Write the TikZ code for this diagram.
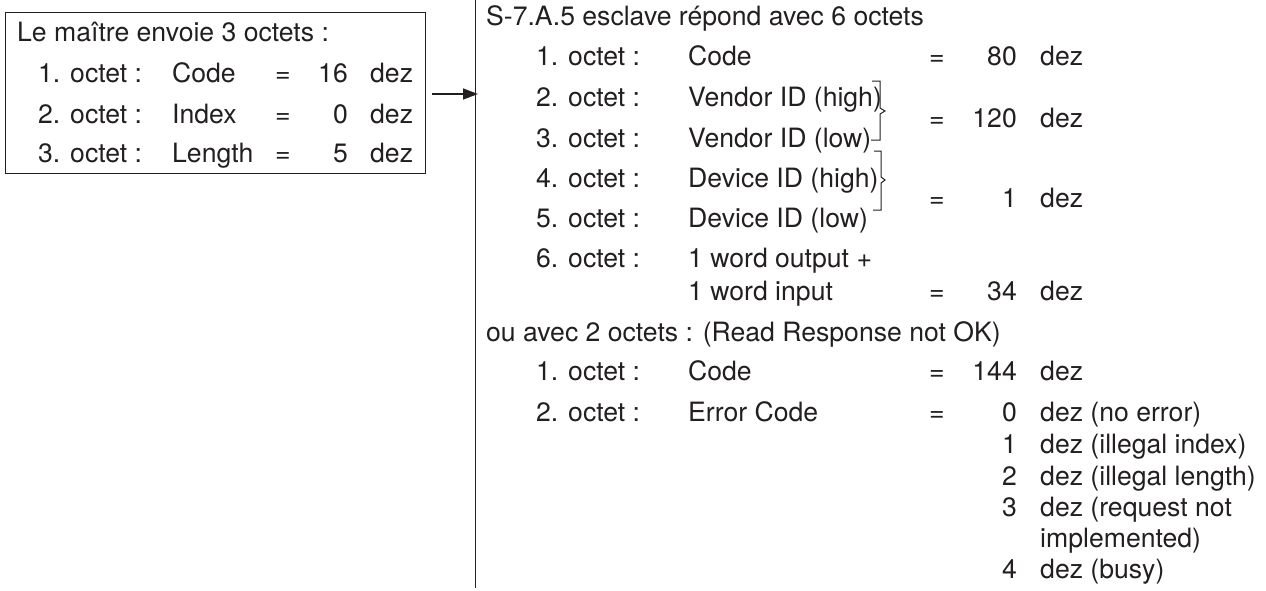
\documentclass[tikz,border=0pt]{standalone}
\usepackage{fontspec}
\setmainfont{TeX Gyre Heros}
\usetikzlibrary{arrows.meta}
\definecolor{ink}{HTML}{231F20}
\begin{document}
\begin{tikzpicture}[x=1pt,y=-1pt,
  every node/.style={inner sep=0pt,text=ink,font=\fontsize{26.6}{32}\selectfont},
  lt/.style={anchor=base west},
  rt/.style={anchor=base east},
  ct/.style={anchor=base},
  ln/.style={draw=ink,line width=1.4pt},
  brk/.style={draw=ink,line width=1pt}]
\useasboundingbox (0,0) rectangle (1266,590);
% master box
\node[ln,draw=ink,anchor=north west,minimum width=420,minimum height=161] (master) at (5,12) {};
\node[lt] (m0) at (17,41) {Le maître envoie 3 octets :};
\node[lt] (m1a) at (38,82) {1. octet :};
\node[lt] (m1b) at (172,82) {Code};
\node[ct] (m1c) at (283,82) {=};
\node[rt] (m1d) at (348,82) {16};
\node[lt] (m1e) at (370,82) {dez};
\node[lt] (m2a) at (38,123) {2. octet :};
\node[lt] (m2b) at (172,123) {Index};
\node[ct] (m2c) at (283,123) {=};
\node[rt] (m2d) at (348,123) {0};
\node[lt] (m2e) at (370,123) {dez};
\node[lt] (m3a) at (38,162) {3. octet :};
\node[lt] (m3b) at (172,162) {Length};
\node[ct] (m3c) at (283,162) {=};
\node[rt] (m3d) at (348,162) {5};
\node[lt] (m3e) at (370,162) {dez};
% vertical line and arrow
\coordinate (vtop) at (475.5,0);
\coordinate (vbot) at (475.5,588);
\draw[ln] (vtop) -- (vbot);
\coordinate (tip) at (478,94);
\draw[ln,-{Triangle[length=15pt,width=11pt]}] ([xshift=6pt]master.east |- tip) -- (tip);
% slave response
\node[lt] (s0) at (486,25) {S-7.A.5 esclave répond avec 6 octets};
\node[lt] (s1a) at (536,65) {1. octet :};
\node[lt] (s1b) at (688,65) {Code};
\node[ct] (s1c) at (937,65) {=};
\node[rt] (s1d) at (1017,65) {80};
\node[lt] (s1e) at (1040,65) {dez};
\node[lt] (s2a) at (536,106) {2. octet :};
\node[lt] (s2b) at (688,106) {Vendor ID (high)};
\node[lt] (s3a) at (536,147) {3. octet :};
\node[lt] (s3b) at (688,147) {Vendor ID (low)};
\node[ct] (s23c) at (937,127) {=};
\node[rt] (s23d) at (1017,127) {120};
\node[lt] (s23e) at (1040,127) {dez};
\node[lt] (s4a) at (536,187) {4. octet :};
\node[lt] (s4b) at (688,187) {Device ID (high)};
\node[lt] (s5a) at (536,227) {5. octet :};
\node[lt] (s5b) at (688,227) {Device ID (low)};
\node[ct] (s45c) at (937,207) {=};
\node[rt] (s45d) at (1017,207) {1};
\node[lt] (s45e) at (1040,207) {dez};
\node[lt] (s6a) at (536,267) {6. octet :};
\node[lt] (s6b) at (688,267) {1 word output +};
\node[lt] (s6b2) at (688,300) {1 word input};
\node[ct] (s6c) at (937,300) {=};
\node[rt] (s6d) at (1017,300) {34};
\node[lt] (s6e) at (1040,300) {dez};
% brackets
\draw[brk] (872,81) -- (880,81) -- (880,108) -- (885,111) -- (880,114) -- (880,140) -- (871,140);
\draw[brk] (874,151) -- (881,151) -- (881,177) -- (885,180) -- (881,183) -- (881,210) -- (873,210);
% error response
\node[lt] (e0) at (486,341) {ou avec 2 octets : (Read Response not OK)};
\node[lt] (e1a) at (536,380) {1. octet :};
\node[lt] (e1b) at (688,380) {Code};
\node[ct] (e1c) at (937,380) {=};
\node[rt] (e1d) at (1017,380) {144};
\node[lt] (e1e) at (1040,380) {dez};
\node[lt] (e2a) at (536,421) {2. octet :};
\node[lt] (e2b) at (688,421) {Error Code};
\node[ct] (e2c) at (937,421) {=};
\node[rt] (e2d) at (1017,421) {0};
\node[lt] (e2e) at (1040,421) {dez (no error)};
\node[rt] (e3d) at (1017,453) {1};
\node[lt] (e3e) at (1040,453) {dez (illegal index)};
\node[rt] (e4d) at (1017,485) {2};
\node[lt] (e4e) at (1040,485) {dez (illegal length)};
\node[rt] (e5d) at (1017,516) {3};
\node[lt] (e5e) at (1040,516) {dez (request not};
\node[lt] (e5f) at (1040,547) {implemented)};
\node[rt] (e6d) at (1017,578) {4};
\node[lt] (e6e) at (1040,578) {dez (busy)};
\end{tikzpicture}
\end{document}
